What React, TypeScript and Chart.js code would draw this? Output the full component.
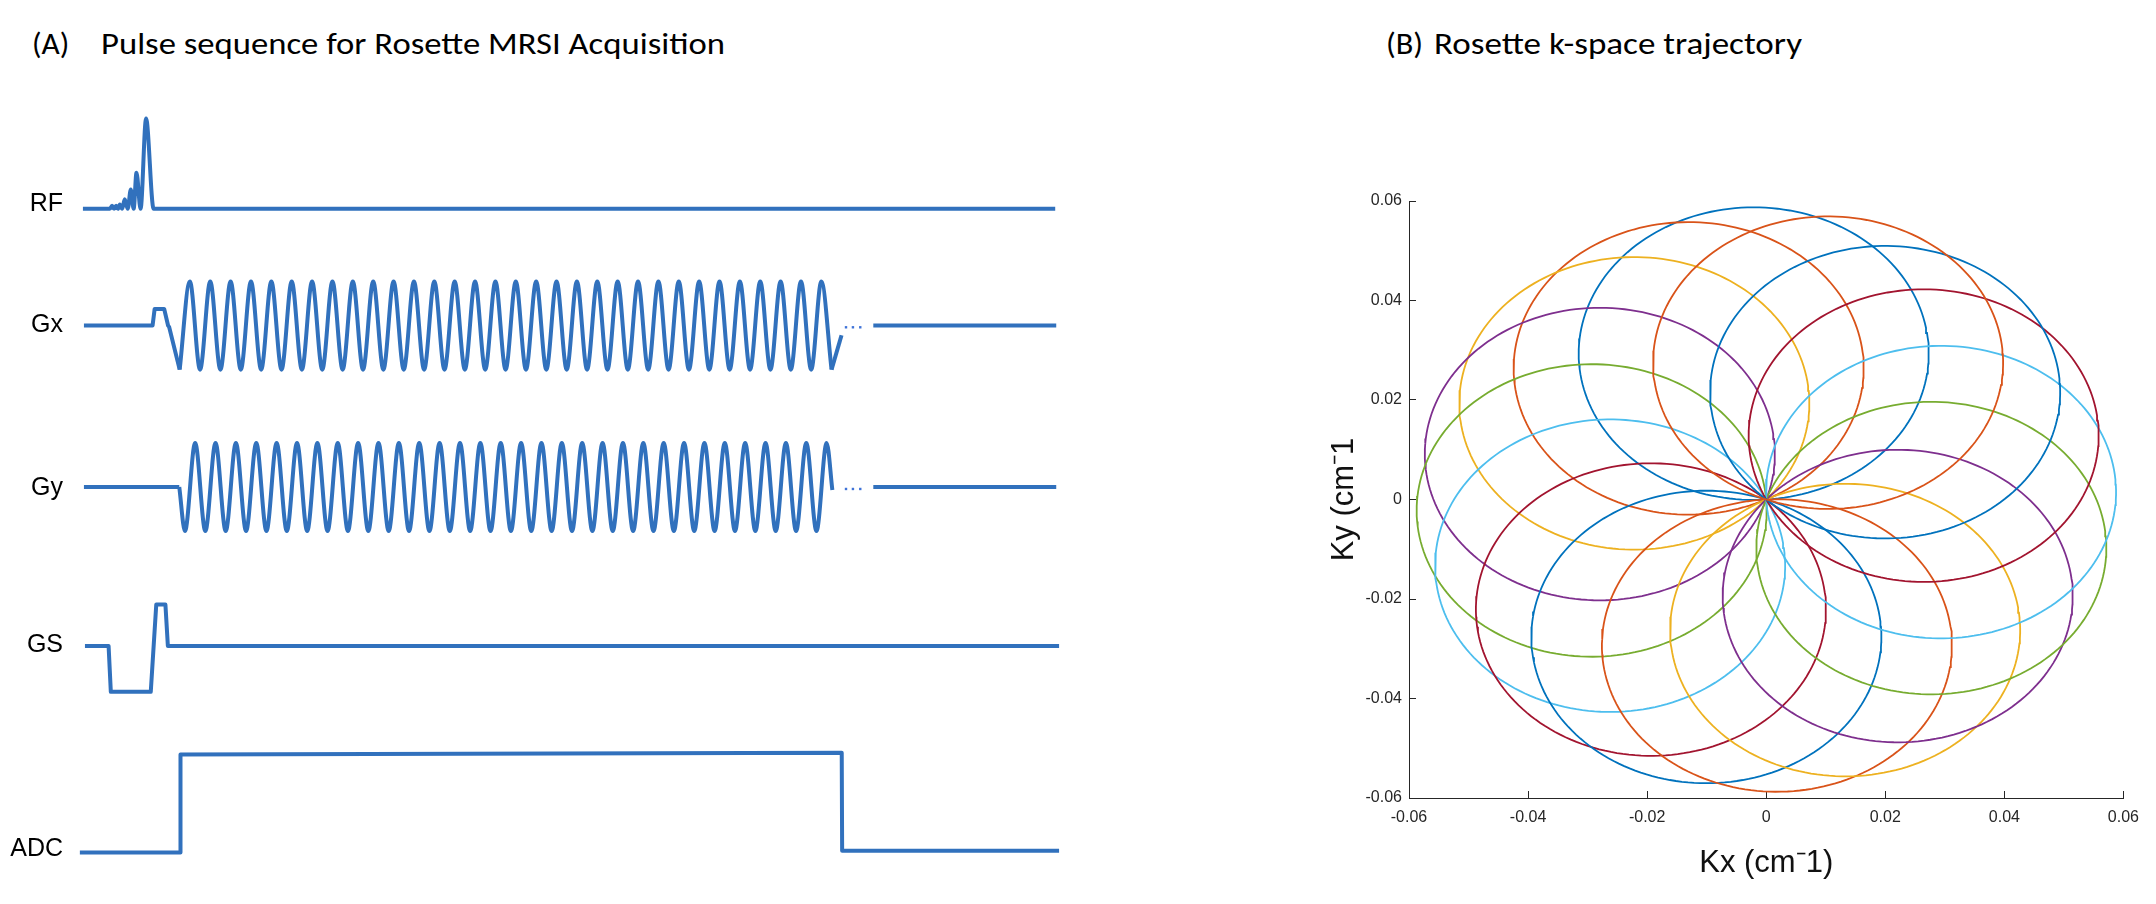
import React, { useEffect, useLayoutEffect, useRef } from 'react';
import { Chart, registerables } from 'chart.js';

Chart.register(...registerables);

// ---------------- DATA ----------------
// Panel A: pulse sequence, time in ms-like units (1 unit = one gradient cycle), amplitude in units of Gmax
const rowNames = ['RF', 'Gx', 'Gy', 'GS', 'ADC'];

const rfTime = [-0.05, 1.27, 1.38, 1.48, 1.58, 1.67, 1.76, 1.88, 2.0, 2.15, 2.3, 2.44, 2.58, 2.78, 3.05, 3.42, 47.68];
const rfAmp = [0, 0, 0.07, 0, 0.07, 0, 0.1, 0, 0.22, 0, 0.44, 0, 0.82, 0, 2.05, 0, 0];

const gxLeadTime = [0, 3.37, 3.47, 3.94, 4.13, 4.18, 4.7];
const gxLeadAmp = [0, 0, 0.375, 0.375, 0, -0.03, -1];
const gxExtTime = [
  4.7, 5.2, 5.7, 6.2, 6.7, 7.2, 7.7, 8.2, 8.7, 9.2,
  9.7, 10.2, 10.7, 11.2, 11.7, 12.2, 12.7, 13.2, 13.7, 14.2,
  14.7, 15.2, 15.7, 16.2, 16.7, 17.2, 17.7, 18.2, 18.7, 19.2,
  19.7, 20.2, 20.7, 21.2, 21.7, 22.2, 22.7, 23.2, 23.7, 24.2,
  24.7, 25.2, 25.7, 26.2, 26.7, 27.2, 27.7, 28.2, 28.7, 29.2,
  29.7, 30.2, 30.7, 31.2, 31.7, 32.2, 32.7, 33.2, 33.7, 34.2,
  34.7, 35.2, 35.7, 36.2, 36.7,
];
const gxExtAmp = [
  -1, 1, -1, 1, -1, 1, -1, 1, -1, 1,
  -1, 1, -1, 1, -1, 1, -1, 1, -1, 1,
  -1, 1, -1, 1, -1, 1, -1, 1, -1, 1,
  -1, 1, -1, 1, -1, 1, -1, 1, -1, 1,
  -1, 1, -1, 1, -1, 1, -1, 1, -1, 1,
  -1, 1, -1, 1, -1, 1, -1, 1, -1, 1,
  -1, 1, -1, 1, -1,
];
const gxTailTime = [36.7, 37.19];
const gxTailAmp = [-1, -0.22];
const gxDotTime = [37.41, 37.75, 38.11];
const gxDotAmp = [-0.04, -0.04, -0.04];
const gxRestTime = [38.75, 47.73];
const gxRestAmp = [0, 0];

const gyLeadTime = [0, 4.68];
const gyLeadAmp = [0, 0];
const gyExtTime = [
  4.68,
  4.96, 5.46, 5.96, 6.46, 6.96, 7.46, 7.96, 8.46, 8.96, 9.46,
  9.96, 10.46, 10.96, 11.46, 11.96, 12.46, 12.96, 13.46, 13.96, 14.46,
  14.96, 15.46, 15.96, 16.46, 16.96, 17.46, 17.96, 18.46, 18.96, 19.46,
  19.96, 20.46, 20.96, 21.46, 21.96, 22.46, 22.96, 23.46, 23.96, 24.46,
  24.96, 25.46, 25.96, 26.46, 26.96, 27.46, 27.96, 28.46, 28.96, 29.46,
  29.96, 30.46, 30.96, 31.46, 31.96, 32.46, 32.96, 33.46, 33.96, 34.46,
  34.96, 35.46, 35.96, 36.46,
  36.74,
];
const gyExtAmp = [
  0,
  -1, 1, -1, 1, -1, 1, -1, 1, -1, 1,
  -1, 1, -1, 1, -1, 1, -1, 1, -1, 1,
  -1, 1, -1, 1, -1, 1, -1, 1, -1, 1,
  -1, 1, -1, 1, -1, 1, -1, 1, -1, 1,
  -1, 1, -1, 1, -1, 1, -1, 1, -1, 1,
  -1, 1, -1, 1, -1, 1, -1, 1, -1, 1,
  -1, 1, -1, 1,
  -0.07,
];
const gyDotTime = [37.41, 37.75, 38.11];
const gyDotAmp = [-0.045, -0.045, -0.045];
const gyRestTime = [38.75, 47.73];
const gyRestAmp = [0, 0];

const gsTime = [0.05, 1.21, 1.32, 3.28, 3.55, 4.0, 4.12, 47.87];
const gsAmp = [0, 0, -1.04, -1.04, 0.94, 0.94, 0, 0];

const adcTime = [-0.2, 4.73, 4.74, 37.2, 37.22, 47.87];
const adcAmp = [0, 0, 2.22, 2.26, 0.04, 0.04];

// Panel B: rosette petals (circles through k-space origin), in plotting order
const petalAngleDeg = [94.1, 116.3, 138.9, 161.9, 184.3, 206.9, 228.8, 250.0, 273.5, 296.8, 318.7, 340.6, 2.9, 25.9, 47.2, 69.3];
const petalDiameter = 0.0588; // cm^-1
const kTicks = [-0.06, -0.04, -0.02, 0, 0.02, 0.04, 0.06];

// ---------------- STYLE / LAYOUT ----------------
const SEQ_BLUE = '#3171BD';
const DOT_BLUE = '#3F73D8';
const MATLAB_COLORS = ['#0072BD', '#D95319', '#EDB120', '#7E2F8E', '#77AC30', '#4DBEEE', '#A2142F'];
const SANS = "'Liberation Sans', Arial, Helvetica, sans-serif";
const TITLE_FONT = "Carlito, Lato, 'Open Sans', sans-serif";

const A_W = 1100;
const H = 904;
const A_AXIS_W = 68;
const AMP_PX = 44.5;
const MS_PX = 20.45;
const T0_PX = 84;
const rowBasePx = [206.7, 324.4, 487.3, 647.7, 856];
const rowLabelPx = [201.5, 324, 488.5, 646.4, 852.6];

const B_LEFT = 1300;
const B_W = 856;

function FitText({ text, left, top, width, size }: { text: string; left: number; top: number; width: number; size: number }) {
  const ref = useRef<HTMLSpanElement>(null);
  useLayoutEffect(() => {
    const el = ref.current;
    if (!el) return;
    el.style.transform = 'none';
    const w = el.getBoundingClientRect().width;
    if (w > 0) el.style.transform = `scaleX(${width / w})`;
  }, [text, width]);
  return (
    <span
      ref={ref}
      style={{
        position: 'absolute',
        left,
        top,
        fontFamily: TITLE_FONT,
        fontSize: size,
        lineHeight: `${size}px`,
        whiteSpace: 'pre',
        transformOrigin: '0 0',
        color: '#000',
      }}
    >
      {text}
    </span>
  );
}

function PulseChart() {
  const ref = useRef<HTMLCanvasElement>(null);
  useEffect(() => {
    if (!ref.current) return;
    const base = rowBasePx.map((p) => -p / AMP_PX);
    const pts = (ts: number[], as: number[], row: number) => ts.map((t, i) => ({ x: t, y: base[row] + as[i] }));
    const line = (data: any[], mono: boolean) => ({
      data,
      showLine: true,
      borderColor: SEQ_BLUE,
      backgroundColor: SEQ_BLUE,
      borderWidth: 4,
      pointRadius: 0,
      tension: 0,
      cubicInterpolationMode: mono ? 'monotone' : 'default',
      borderJoinStyle: 'round',
      borderCapStyle: 'butt',
    });
    const dots = (data: any[]) => ({
      data,
      showLine: false,
      pointRadius: 1.7,
      pointStyle: 'rect',
      backgroundColor: DOT_BLUE,
      borderWidth: 0,
    });
    const datasets: any[] = [
      line(pts(rfTime, rfAmp, 0), true),
      line(pts(gxLeadTime, gxLeadAmp, 1), false),
      line(pts(gxExtTime, gxExtAmp, 1), true),
      line(pts(gxTailTime, gxTailAmp, 1), false),
      dots(pts(gxDotTime, gxDotAmp, 1)),
      line(pts(gxRestTime, gxRestAmp, 1), false),
      line(pts(gyLeadTime, gyLeadAmp, 2), false),
      line(pts(gyExtTime, gyExtAmp, 2), true),
      dots(pts(gyDotTime, gyDotAmp, 2)),
      line(pts(gyRestTime, gyRestAmp, 2), false),
      line(pts(gsTime, gsAmp, 3), false),
      line(pts(adcTime, adcAmp, 4), false),
    ];
    const xMin = -(T0_PX - A_AXIS_W) / MS_PX;
    const xMax = xMin + (A_W - A_AXIS_W) / MS_PX;
    const chart = new Chart(ref.current, {
      type: 'scatter',
      data: { datasets },
      options: {
        responsive: false,
        animation: false,
        events: [],
        layout: { padding: 0 },
        plugins: { legend: { display: false }, tooltip: { enabled: false }, title: { display: false } },
        scales: {
          x: { type: 'linear', display: false, min: xMin, max: xMax },
          y: {
            type: 'linear',
            position: 'left',
            min: -H / AMP_PX,
            max: 0,
            afterBuildTicks: (s: any) => {
              s.ticks = rowLabelPx.map((p) => ({ value: -p / AMP_PX }));
            },
            afterFit: (s: any) => {
              s.width = A_AXIS_W;
              s.paddingTop = 0;
              s.paddingBottom = 0;
            },
            ticks: {
              autoSkip: false,
              padding: 5,
              color: '#000',
              font: { family: SANS, size: 25 },
              callback: (_v: any, i: number) => rowNames[i],
            },
            grid: { display: false, drawTicks: false },
            border: { display: false },
          },
        },
      } as any,
    });
    return () => chart.destroy();
  }, []);
  return <canvas ref={ref} width={A_W} height={H} style={{ position: 'absolute', left: 0, top: 0 }} />;
}

function RosetteChart() {
  const ref = useRef<HTMLCanvasElement>(null);
  useEffect(() => {
    if (!ref.current) return;
    const r = petalDiameter / 2;
    const datasets = petalAngleDeg.map((deg, i) => {
      const th = (deg * Math.PI) / 180;
      const cx = r * Math.cos(th);
      const cy = r * Math.sin(th);
      const data: { x: number; y: number }[] = [];
      for (let k = 0; k <= 180; k++) {
        const ph = th + Math.PI + (k * 2 * Math.PI) / 180;
        data.push({ x: cx + r * Math.cos(ph), y: cy + r * Math.sin(ph) });
      }
      const c = MATLAB_COLORS[i % MATLAB_COLORS.length];
      return {
        data,
        showLine: true,
        borderColor: c,
        backgroundColor: c,
        borderWidth: 1.8,
        pointRadius: 0,
        tension: 0,
        order: petalAngleDeg.length - i,
      };
    });
    const fmt = (v: any) => {
      const n = Number(v);
      if (Math.abs(n) < 1e-9) return '0';
      return n.toFixed(2);
    };
    const gridOpt = { display: true, drawOnChartArea: false, drawTicks: true, tickLength: -7, color: '#262626', lineWidth: 1 };
    const borderOpt = { display: true, color: '#262626', width: 1 };
    const chart = new Chart(ref.current, {
      type: 'scatter',
      data: { datasets } as any,
      options: {
        responsive: false,
        animation: false,
        events: [],
        layout: { padding: { left: 20, right: 28, top: 201, bottom: 20 } },
        plugins: { legend: { display: false }, tooltip: { enabled: false }, title: { display: false } },
        scales: {
          x: {
            type: 'linear',
            min: -0.06,
            max: 0.06,
            afterBuildTicks: (s: any) => {
              s.ticks = kTicks.map((v) => ({ value: v }));
            },
            afterFit: (s: any) => {
              s.height = H - 798 - 20;
            },
            ticks: { autoSkip: false, maxRotation: 0, padding: 17, color: '#262626', font: { family: SANS, size: 16 }, callback: fmt },
            grid: gridOpt,
            border: borderOpt,
            title: { display: true, text: 'Kx (cm\u207B1)', color: '#111', font: { family: SANS, size: 31 }, padding: { top: 0, bottom: 2.4 } },
          },
          y: {
            type: 'linear',
            min: -0.06,
            max: 0.06,
            afterBuildTicks: (s: any) => {
              s.ticks = kTicks.map((v) => ({ value: v }));
            },
            afterFit: (s: any) => {
              s.width = 109 - 20;
            },
            ticks: { autoSkip: false, padding: 14, color: '#262626', font: { family: SANS, size: 16 }, callback: fmt },
            grid: gridOpt,
            border: borderOpt,
            title: { display: true, text: 'Ky (cm\u207B1', color: '#111', font: { family: SANS, size: 31 }, padding: { top: 5.4, bottom: 0 } },
          },
        },
      } as any,
    });
    return () => chart.destroy();
  }, []);
  return <canvas ref={ref} width={B_W} height={H} style={{ position: 'absolute', left: B_LEFT, top: 0 }} />;
}

export default function App() {
  const titleSize = 31;
  const titleTop = 55 - 0.887 * titleSize;
  return (
    <div style={{ position: 'absolute', left: 0, top: 0, width: 2156, height: H, background: '#fff', overflow: 'hidden' }}>
      <FitText text="(A)" left={31.6} top={titleTop} width={37.3} size={titleSize} />
      <FitText text="Pulse sequence for Rosette MRSI Acquisition" left={100.5} top={titleTop} width={624} size={titleSize} />
      <FitText text="(B)" left={1385.8} top={titleTop} width={37.1} size={titleSize} />
      <FitText text="Rosette k-space trajectory" left={1433.7} top={titleTop} width={368} size={titleSize} />
      <PulseChart />
      <RosetteChart />
    </div>
  );
}
